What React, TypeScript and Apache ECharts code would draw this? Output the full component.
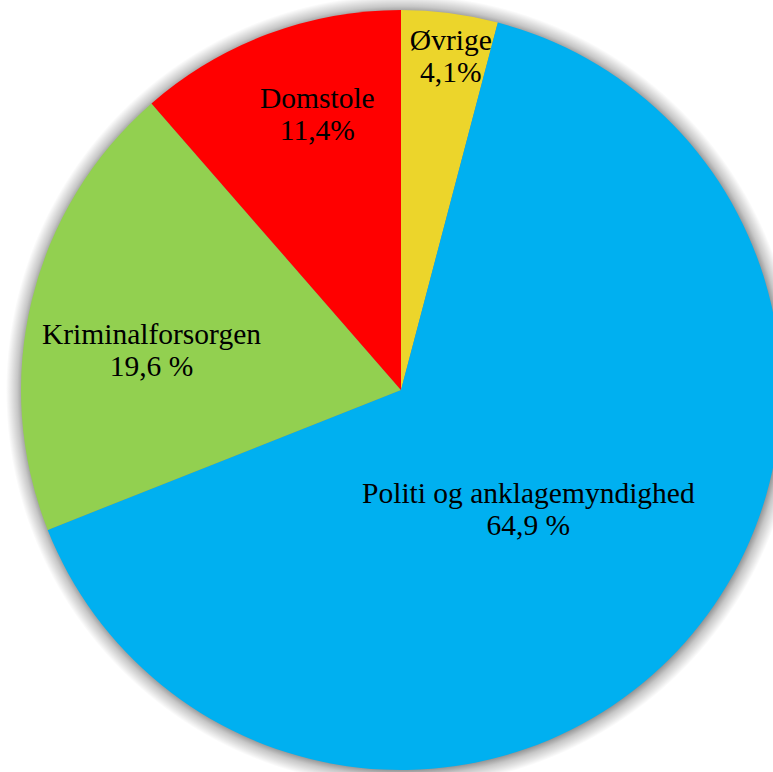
import React, { useEffect, useRef } from "react";
import * as echarts from "echarts";

const categories = ["Øvrige", "Politi og anklagemyndighed", "Kriminalforsorgen", "Domstole"];
const values = [4.1, 64.9, 19.6, 11.4];
const valueLabels = ["4,1%", "64,9 %", "19,6 %", "11,4%"];
const colors = ["#ECD52B", "#00B0F0", "#92D050", "#FF0000"];
const labelShift: [number, number][] = [
  [25, -143],
  [-17, -9],
  [-62, 6],
  [-16, -95],
];

export default function App() {
  const ref = useRef<HTMLDivElement>(null);
  useEffect(() => {
    if (!ref.current) return;
    const chart = echarts.init(ref.current, null, { renderer: "svg" });
    const center = [401, 390];
    const radius = 380;
    const shadowRadius = 396;
    const edge = radius / shadowRadius;
    chart.setOption({
      animation: false,
      backgroundColor: "#ffffff",
      series: [
        {
          type: "pie",
          silent: true,
          center: [center[0] + 1, center[1] + 1],
          radius: shadowRadius,
          z: 1,
          label: { show: false },
          labelLine: { show: false },
          itemStyle: {
            color: {
              type: "radial",
              x: 0.5,
              y: 0.5,
              r: 0.5,
              colorStops: [
                { offset: 0, color: "rgba(0,0,0,0.5)" },
                { offset: edge - 0.01, color: "rgba(0,0,0,0.5)" },
                { offset: edge + 0.012, color: "rgba(0,0,0,0.22)" },
                { offset: 1, color: "rgba(0,0,0,0)" },
              ],
            },
          },
          data: [{ value: 1, name: "shadow" }],
        },
        {
          type: "pie",
          center,
          radius,
          z: 2,
          startAngle: 90,
          clockwise: true,
          avoidLabelOverlap: false,
          label: {
            show: true,
            position: "inside",
            color: "#000000",
            fontFamily: "'Liberation Serif', 'Times New Roman', serif",
            fontSize: 29.5,
            lineHeight: 32,
            align: "center",
            formatter: (p: any) => `${p.name}\n${valueLabels[p.dataIndex]}`,
          },
          labelLine: { show: false },
          labelLayout: (p: any) => ({
            dx: labelShift[p.dataIndex][0],
            dy: labelShift[p.dataIndex][1],
          }),
          itemStyle: { borderWidth: 0 },
          data: categories.map((c, i) => ({
            name: c,
            value: values[i],
            itemStyle: { color: colors[i] },
          })),
        },
      ],
    });
    return () => chart.dispose();
  }, []);
  return (
    <div
      ref={ref}
      style={{ position: "fixed", left: 0, top: 0, width: 773, height: 772 }}
    />
  );
}
